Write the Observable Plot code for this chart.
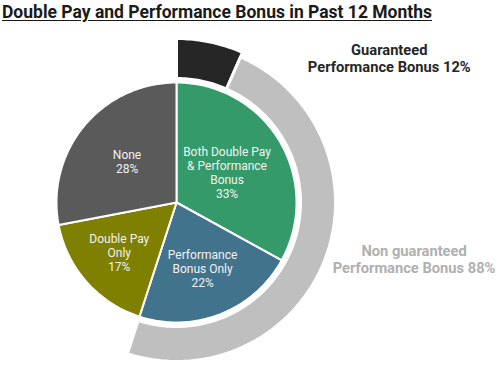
<!DOCTYPE html>
<html>
<head>
<meta charset="utf-8">
<script src="https://cdn.jsdelivr.net/npm/d3@7"></script>
<script src="https://cdn.jsdelivr.net/npm/@observablehq/plot@0.6"></script>
<style>
  body { margin: 0; background: #fff; font-family: Roboto, "Noto Sans", sans-serif; }
  #title { height: 26px; line-height: 25px; font-size: 17.5px; font-weight: 700; color: #1a1a1a;
           padding-left: 2px; text-decoration: underline; text-underline-offset: 2px; white-space: nowrap; overflow: hidden; }
  #chart svg { display: block; }
</style>
</head>
<body>
<div id="title">Double Pay and Performance Bonus in Past 12 Months</div>
<div id="chart"></div>
<script>
// ---- data ----
const categories = ["Both Double Pay & Performance Bonus", "Performance Bonus Only", "Double Pay Only", "None"];
const pieLabels = ["Both Double Pay\n& Performance\nBonus", "Performance\nBonus Only", "Double Pay\nOnly", "None"];
const values = [33, 22, 17, 28];
const ringCategories = ["Guaranteed", "Non guaranteed"];
const ringLabels = ["Guaranteed\nPerformance Bonus 12%", "Non guaranteed\nPerformance Bonus 88%"];
const ringValues = [12, 88];

// ---- styles ----
const pieColors = ["#359a69", "#41738c", "#7f7f00", "#5a5a5a"];
const ringColors = ["#262626", "#bfbfbf"];
const ringTextColors = ["#262626", "#b0b0b0"];

// ---- geometry helpers (unit radius = pie radius) ----
const W = 502, H = 342, PX = 120, CX = 176, CY = 176;
const ringInner = 124 / PX;
const ringOuter = [164 / PX, 159 / PX];
const rad = d => d * Math.PI / 180;
const pt = (r, a) => [r * Math.sin(rad(a)), r * Math.cos(rad(a))];
function arcPts(r, a0, a1) {
  const n = Math.max(2, Math.ceil(Math.abs(a1 - a0)));
  return d3.range(n + 1).map(i => pt(r, a0 + (a1 - a0) * i / n));
}

const total = d3.sum(values);
let acc = 0;
const slices = values.map((v, i) => {
  const a0 = acc / total * 360; acc += v; const a1 = acc / total * 360;
  return {i, name: categories[i], v, a0, a1};
});
const pieRows = [];
slices.forEach(s => {
  const pts = [[0, 0], ...arcPts(1, s.a0, s.a1), [0, 0]];
  pts.forEach(([x, y]) => pieRows.push({x, y, k: s.name, c: pieColors[s.i]}));
});

// ring covers the share that received a performance bonus
const bonusShare = values[0] + values[1];
const ringTotal = d3.sum(ringValues);
let racc = 0;
const ringSegs = ringValues.map((v, i) => {
  const a0 = racc / ringTotal * bonusShare / total * 360; racc += v;
  const a1 = racc / ringTotal * bonusShare / total * 360;
  return {i, a0, a1};
});
const ringRows = [];
ringSegs.forEach(s => {
  const pts = [...arcPts(ringInner, s.a0, s.a1), ...arcPts(ringOuter[s.i], s.a1, s.a0)];
  pts.push(pts[0]);
  pts.forEach(([x, y]) => ringRows.push({x, y, k: ringCategories[s.i], c: ringColors[s.i]}));
});

const pieText = slices.map(s => {
  const am = (s.a0 + s.a1) / 2;
  const r = (95 - 1.1 * s.v) / PX;
  const [x, y] = pt(r, am);
  return {x, y, t: pieLabels[s.i] + "\n" + s.v + "%"};
});
const ringText = ringSegs.map(s => {
  const [x, y] = pt(ringOuter[s.i], (s.a0 + s.a1) / 2);
  return {x, y, t: ringLabels[s.i], c: ringTextColors[s.i], i: s.i};
});

const chart = Plot.plot({
  width: W, height: H, margin: 0,
  x: {domain: [-CX / PX, (W - CX) / PX], axis: null},
  y: {domain: [-(H - CY) / PX, CY / PX], axis: null},
  marks: [
    Plot.line(ringRows, {x: "x", y: "y", z: "k", fill: d => d.c, stroke: "#fff", strokeWidth: 3, curve: "linear"}),
    Plot.line(pieRows, {x: "x", y: "y", z: "k", fill: d => d.c, stroke: "#fff", strokeWidth: 2, curve: "linear", strokeLinejoin: "round"}),
    Plot.text(pieText, {x: "x", y: "y", text: "t", fill: "#f2f2f2", fontSize: 12, lineHeight: 1.17, fontFamily: "Roboto"}),
    Plot.text(ringText.filter(d => d.i === 0), {x: "x", y: "y", text: "t", fill: d => d.c, fontSize: 14.7, fontWeight: 700, lineHeight: 1.13, dx: 179, dy: 16, fontFamily: "Roboto"}),
    Plot.text(ringText.filter(d => d.i === 1), {x: "x", y: "y", text: "t", fill: d => d.c, fontSize: 14.7, fontWeight: 700, lineHeight: 1.13, dx: 89, dy: 0, fontFamily: "Roboto"})
  ]
});
document.getElementById("chart").appendChild(chart);
</script>
</body>
</html>
